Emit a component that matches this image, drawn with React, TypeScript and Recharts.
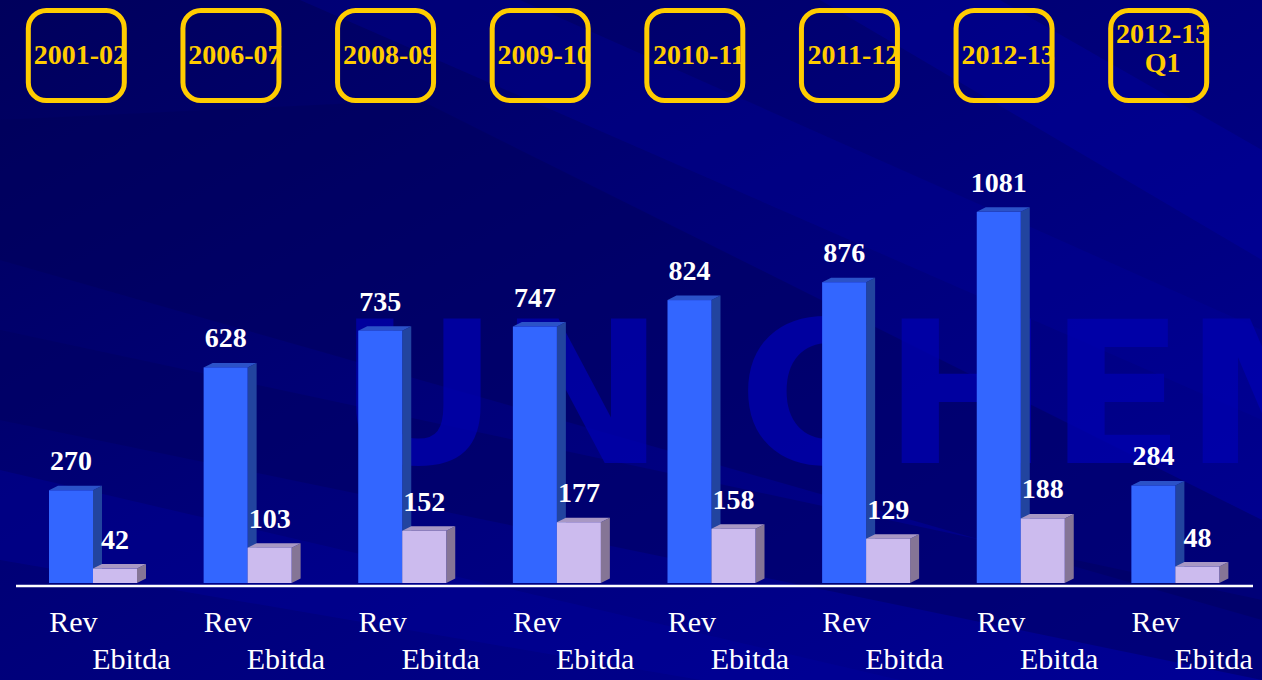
import React from 'react';
import { BarChart, Bar, XAxis, YAxis, LabelList } from 'recharts';

const periods = ['2001-02', '2006-07', '2008-09', '2009-10', '2010-11', '2011-12', '2012-13', '2012-13\nQ1'];
const revenue = [270, 628, 735, 747, 824, 876, 1081, 284];
const ebitda = [42, 103, 152, 177, 158, 129, 188, 48];
const seriesNames = ['Rev', 'Ebitda'];

const data = periods.map((period, i) => ({ period, rev: revenue[i], ebitda: ebitda[i] }));

const W = 1262;
const H = 680;
const SERIF = '"Liberation Serif", "Times New Roman", serif';
const DX = 9;
const DY = 4.5;

// 3D box: front face, top and right side
const make3DBar = (front: string, top: string, side: string) => (props: any) => {
  const { x, y, width, height } = props;
  if (!height || height <= 0) return null;
  const r = x + width;
  const b = y + height;
  return (
    <g>
      <polygon points={`${r},${y} ${r + DX},${y - DY} ${r + DX},${b - DY} ${r},${b}`} fill={side} />
      <polygon points={`${x},${y} ${x + DX},${y - DY} ${r + DX},${y - DY} ${r},${y}`} fill={top} />
      <rect x={x} y={y} width={width} height={height} fill={front} />
    </g>
  );
};

const RevBar = make3DBar('#3366ff', '#2b52c8', '#22449f');
const EbitdaBar = make3DBar('#ccbbee', '#a898c4', '#857596');

const ValueLabel = (props: any) => {
  const { x, y, width, value } = props;
  return (
    <text
      x={x + width / 2}
      y={y - 20}
      textAnchor="middle"
      fill="#ffffff"
      fontFamily={SERIF}
      fontWeight="bold"
      fontSize={28}
    >
      {value}
    </text>
  );
};

const PeriodTick = (props: any) => {
  const { x, payload } = props;
  const cx = x - 17;
  const lines = String(payload.value).split('\n');
  const firstBase = lines.length > 1 ? 43 : 64;
  return (
    <g>
      <rect x={cx - 48} y={10.5} width={96} height={90} rx={18} ry={18} fill="none" stroke="#ffcc00" strokeWidth={5} />
      {lines.map((line, i) => (
        <text
          key={i}
          x={cx + 4}
          y={firstBase + i * 29}
          textAnchor="middle"
          fill="#ffcc00"
          fontFamily={SERIF}
          fontWeight="bold"
          fontSize={28}
        >
          {line}
        </text>
      ))}
    </g>
  );
};

const SeriesTick = (props: any) => {
  const { x } = props;
  return (
    <g fill="#ffffff" fontFamily={SERIF} fontSize={30}>
      <text x={x - 20} y={632} textAnchor="middle">{seriesNames[0]}</text>
      <text x={x + 38} y={669} textAnchor="middle">{seriesNames[1]}</text>
    </g>
  );
};

const Background = () => (
  <svg width={W} height={H} style={{ position: 'absolute', left: 0, top: 0 }}>
    <defs>
      <linearGradient id="bg" x1="0" y1="0" x2="1" y2="1">
        <stop offset="0%" stopColor="#00005c" />
        <stop offset="45%" stopColor="#000078" />
        <stop offset="100%" stopColor="#000096" />
      </linearGradient>
    </defs>
    <rect width={W} height={H} fill="url(#bg)" />
    <polygon points="0,120 420,100 1262,520 1262,620 0,260" fill="#000058" opacity={0.45} />
    <polygon points="0,330 0,420 1262,680 1262,600" fill="#000060" opacity={0.5} />
    <polygon points="300,0 520,0 1262,330 1262,420" fill="#0000a0" opacity={0.3} />
    <polygon points="0,470 0,560 700,680 900,680" fill="#0000a0" opacity={0.35} />
    <polygon points="820,0 1000,0 1262,150 1262,260" fill="#0000b0" opacity={0.3} />
    <text
      x={338}
      y={463}
      fontFamily='"DejaVu Sans", Verdana, sans-serif'
      fontWeight="bold"
      fontSize={198}
      fill="#0000b0"
      opacity={0.75}
    >
      UNICHEM
    </text>
  </svg>
);

export default function App() {
  return (
    <div style={{ position: 'fixed', left: 0, top: 0, width: W, height: H, overflow: 'hidden' }}>
      <Background />
      <div style={{ position: 'absolute', left: 0, top: 0 }}>
        <BarChart
          width={W}
          height={H}
          data={data}
          margin={{ top: 0, right: 9, bottom: 0, left: 16 }}
          barSize={44}
          barGap={0}
        >
          <XAxis
            xAxisId="top"
            orientation="top"
            dataKey="period"
            height={171}
            axisLine={false}
            tickLine={false}
            interval={0}
            tick={<PeriodTick />}
          />
          <XAxis
            dataKey="period"
            height={97}
            axisLine={{ stroke: '#ffffff', strokeWidth: 2.5, transform: 'translate(0 3)' }}
            tickLine={false}
            interval={0}
            tick={<SeriesTick />}
          />
          <YAxis hide domain={[0, 1200]} />
          <Bar dataKey="rev" shape={RevBar} isAnimationActive={false}>
            <LabelList dataKey="rev" content={<ValueLabel />} />
          </Bar>
          <Bar dataKey="ebitda" shape={EbitdaBar} isAnimationActive={false}>
            <LabelList dataKey="ebitda" content={<ValueLabel />} />
          </Bar>
        </BarChart>
      </div>
    </div>
  );
}
